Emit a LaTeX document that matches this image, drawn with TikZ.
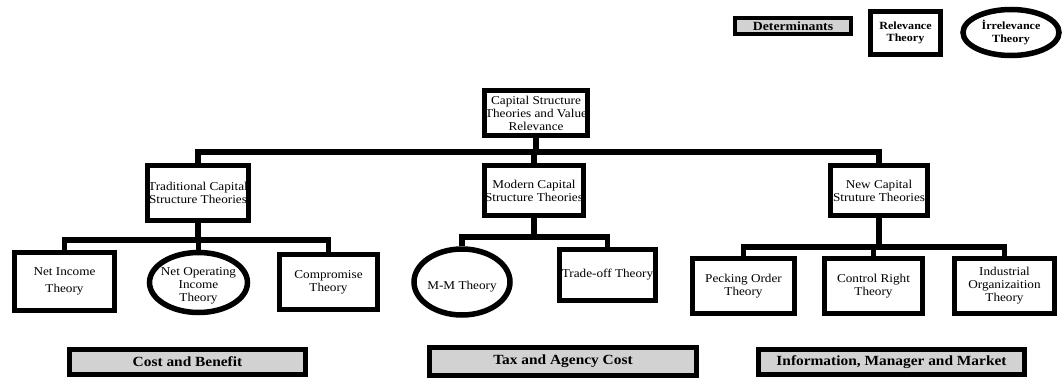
\documentclass[tikz,border=0pt]{standalone}
\usepackage{fontspec}
\setmainfont[FakeStretch=1.1]{Liberation Serif}
\usetikzlibrary{shapes.geometric}
\begin{document}
\begin{tikzpicture}[x=1pt,y=-1pt,
  box/.style={draw, line width=5.5pt, fill=white, rectangle, align=center, inner sep=0.5pt, font=\fontsize{12}{13}\selectfont},
  ell/.style={draw, line width=5.5pt, fill=white, ellipse, inner sep=0pt},
  lbl/.style={align=center, inner sep=0pt, font=\fontsize{12}{13}\selectfont},
  gbox/.style={draw, line width=5pt, fill=gray!35, rectangle, align=center, inner sep=1pt, font=\bfseries\fontsize{14}{16}\selectfont},
  conn/.style={line width=5.5pt}]
\useasboundingbox (0,0) rectangle (1062,380);
% legend
\node[gbox, line width=4.5pt, minimum width=116, minimum height=16, font=\bfseries\fontsize{12.5}{13}\selectfont] (det) at (793,26) {Determinants};
\node[box, minimum width=70, minimum height=43, font=\bfseries\fontsize{11}{12.5}\selectfont] (rel) at (905.5,33) {Relevance\\Theory};
\node[ell, minimum width=96, minimum height=46] (irr) at (1011,32.5) {};
\node[lbl, font=\bfseries\fontsize{11}{12.5}\selectfont] (irrt) at (irr.center) {İrrelevance\\Theory};
% main
\node[box, minimum width=99, minimum height=45] (root) at (536,113) {Capital Structure\\Theories and Value\\Relevance};
\node[box, minimum width=99, minimum height=55] (trad) at (198,193) {Traditional Capital\\Structure Theories};
\node[box, minimum width=97, minimum height=50] (mod) at (534,190.5) {Modern Capital\\Structure Theories};
\node[box, minimum width=97, minimum height=50] (new) at (879,190.5) {New Capital\\Struture Theories};
\node[box, minimum width=100, minimum height=58] (ni) at (64.5,281.5) {Net Income\\[4pt]Theory};
\node[ell, minimum width=98, minimum height=60] (noi) at (198.5,282.5) {};
\node[lbl] (noit) at ([yshift=-3pt]noi.center) {Net Operating\\Income\\Theory};
\node[box, minimum width=98, minimum height=55] (comp) at (328.5,282) {Compromise\\Theory};
\node[ell, minimum width=96, minimum height=66] (mm) at (462,282) {};
\node[lbl] (mmt) at ([yshift=-5pt]mm.center) {M-M Theory};
\node[box, minimum width=96, minimum height=51] (trade) at (607.5,275) {Trade-off Theory};
\node[box, minimum width=102, minimum height=55] (peck) at (743.5,286) {Pecking Order\\Theory};
\node[box, minimum width=98, minimum height=55] (ctrl) at (873.5,286) {Control Right\\Theory};
\node[box, minimum width=100, minimum height=55] (ind) at (1004.5,286) {Industrial\\Organizaition\\Theory};
% bottom
\node[gbox, minimum width=236, minimum height=25] (cb) at (187.5,362) {Cost and Benefit};
\node[gbox, minimum width=267, minimum height=28] (tax) at (563,361.5) {Tax and Agency Cost};
\node[gbox, minimum width=266, minimum height=25] (info) at (891.5,362) {Information, Manager and Market};
% connectors
\coordinate (b0) at (0,152);
\coordinate (bt) at (0,240);
\coordinate (bm) at (0,237);
\coordinate (bn) at (0,247);
\draw[conn] (trad.north) |- (new.north |- b0) -- (new.north);
\draw[conn] (root.south) -- (root.south |- b0);
\draw[conn] (mod.north) -- (mod.north |- b0);
\draw[conn] (ni.north) |- (comp.north |- bt) -- (comp.north);
\draw[conn] (trad.south) -- (trad.south |- bt);
\draw[conn] (noi.north) -- (noi.north |- bt);
\draw[conn] (mm.north) |- (trade.north |- bm) -- (trade.north);
\draw[conn] (mod.south) -- (mod.south |- bm);
\draw[conn] (peck.north) |- (ind.north |- bn) -- (ind.north);
\draw[conn] (new.south) -- (new.south |- bn);
\draw[conn] (ctrl.north) -- (ctrl.north |- bn);
\end{tikzpicture}
\end{document}
